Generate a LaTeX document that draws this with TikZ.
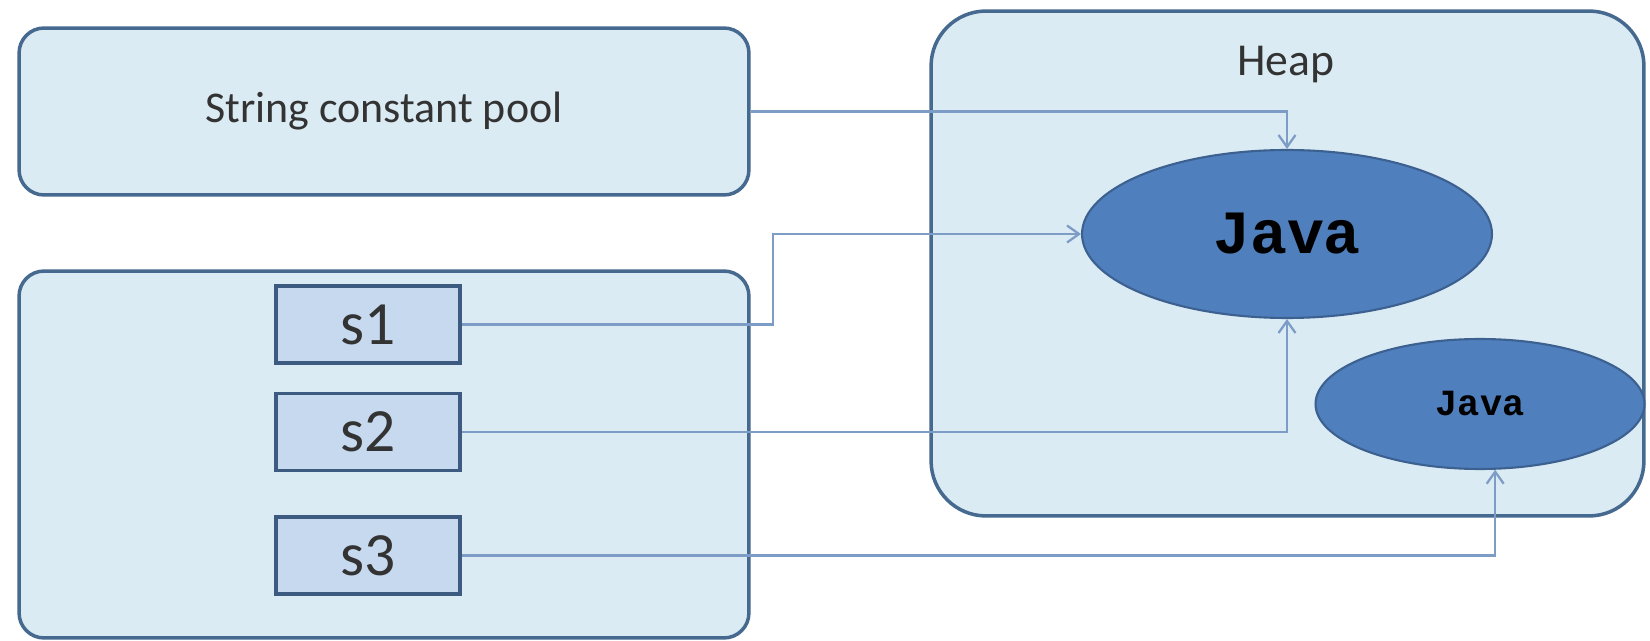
\documentclass[tikz,border=0pt]{standalone}
\usepackage{fontspec}
\setmainfont{Carlito}
\newfontfamily\javafont{Liberation Mono}
\usetikzlibrary{arrows.meta,shapes.geometric}

\definecolor{areafill}{HTML}{DAEBF3}
\definecolor{arealine}{HTML}{45698F}
\definecolor{areatext}{HTML}{333333}
\definecolor{varfill}{HTML}{C6D9EF}
\definecolor{varline}{HTML}{3D5B80}
\definecolor{objfill}{HTML}{4F7FBC}
\definecolor{objline}{HTML}{3C6090}
\definecolor{refline}{HTML}{7E9DC6}

\begin{document}
\begin{tikzpicture}[x=0.02cm,y=-0.02cm,
    area/.style={draw=arealine, line width=2pt, fill=areafill, inner sep=0pt, rounded corners=0.5cm,
        text=areatext},
    var/.style={draw=varline, line width=2pt, fill=varfill, inner sep=0pt, text=areatext,
        minimum width=3.68cm, minimum height=1.54cm, font=\fontsize{35}{38}\selectfont},
    obj/.style={ellipse, draw=objline, line width=1.2pt, fill=objfill, inner sep=0pt},
    ref/.style={draw=refline, line width=1.3pt, -{Straight Barb[length=2.4mm,width=3.4mm]}}]
    \useasboundingbox (0,0) rectangle (1650,641);

    % memory areas
    \node[area, minimum width=14.6cm, minimum height=3.34cm,
        font=\fontsize{25}{29}\selectfont] (pool) at (384,111.5) {String constant pool};
    \node[area, minimum width=14.6cm, minimum height=7.34cm] (stack) at (384,454.5) {};
    \node[area, rounded corners=1.1cm, minimum width=14.26cm, minimum height=10.1cm] (heap) at (1287.5,263.5) {};
    \node[text=areatext, font=\fontsize{26}{30}\selectfont] (heaplbl) at (1286,65) {Heap};

    % variables
    \node[var] (s1) at (368,324.5) {s1};
    \node[var] (s2) at (368,432) {s2};
    \node[var] (s3) at (368,555.5) {s3};

    % objects
    \node[obj, minimum width=8.2cm, minimum height=3.36cm,
        font=\javafont\bfseries\fontsize{35}{38}\selectfont] (java) at (1287,234) {Java};
    \node[obj, minimum width=6.58cm, minimum height=2.6cm,
        font=\javafont\bfseries\fontsize{21}{24}\selectfont] (javanew) at (1480,404) {Java};

    % references
    \coordinate (k1) at (773,234);
    \draw[ref] (pool.east) -| (java.north);
    \draw[ref] (s1.east) -| (k1) -- (java.west);
    \draw[ref] (s2.east) -| (java.south);
    \draw[ref] (s3.east) -| (javanew.-77);
\end{tikzpicture}
\end{document}
